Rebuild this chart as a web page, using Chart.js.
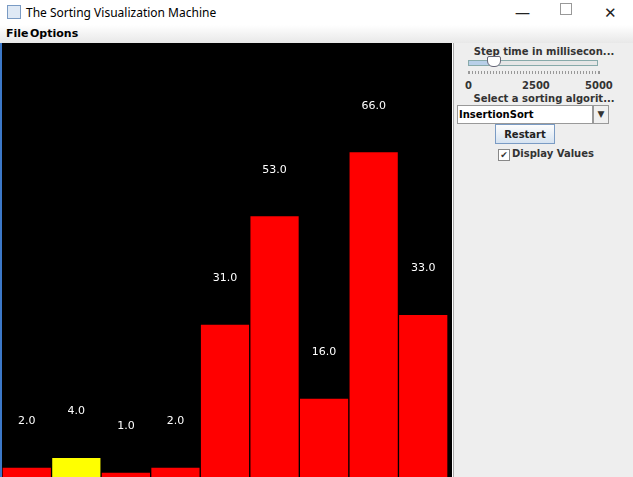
<!DOCTYPE html>
<html>
<head>
<meta charset="utf-8">
<script src="https://cdn.jsdelivr.net/npm/chart.js@4"></script>
<style>
  body { margin: 0; width: 633px; height: 477px; overflow: hidden; background: #fff; font-family: "DejaVu Sans", sans-serif; position: relative; }
  .title { position: absolute; left: 0; top: 0; width: 633px; height: 25px; background: #fff; font: 12px "Noto Sans", sans-serif; }
  .title .icon { position: absolute; left: 7px; top: 5px; width: 14px; height: 14px; border: 1px solid #7a9bc4; background: #dfe9f5; box-sizing: border-box; }
  .title .txt { position: absolute; left: 26px; top: 4px; color: #000; }
  .title .btn { position: absolute; top: 2px; font-size: 15px; color: #222; }
  .menu { position: absolute; left: 0; top: 25px; width: 633px; height: 18px; background: linear-gradient(#fff, #e8e8e8); font: bold 11px "DejaVu Sans", sans-serif; }
  .menu span { position: absolute; top: 2px; }
  .plot { position: absolute; left: 0; top: 43px; width: 452px; height: 434px; background: #000; border-left: 2px solid #3c78c8; box-sizing: border-box; }
  .plot canvas { position: absolute; left: 0; top: 0; }
  .side { position: absolute; left: 453px; top: 43px; width: 180px; height: 434px; background: #eeeeee; border-left: 1px solid #aaa; box-sizing: border-box; font: bold 10px "DejaVu Sans", sans-serif; color: #333; }
  .side .lbl { position: absolute; width: 180px; text-align: center; }
</style>
</head>
<body>
<div class="title"><div class="icon"></div><div class="txt">The Sorting Visualization Machine</div>
  <div class="btn" style="left:515px;">&#8212;</div>
  <div class="btn" style="left:560px;top:3px;width:10px;height:10px;border:1px solid #999;"></div>
  <div class="btn" style="left:604px;">&#10005;</div>
</div>
<div class="menu"><span style="left:6px">File</span><span style="left:30px">Options</span></div>
<div class="plot"><canvas id="c" width="446" height="434" style="width:446px;height:434px"></canvas></div>
<div class="side">
  <div class="lbl" style="top:3px;left:0">Step time in millisecon...</div>
  <div style="position:absolute;left:14px;top:17px;width:128px;height:4px;border:1px solid #8aa;background:#e6e6e6;"></div>
  <div style="position:absolute;left:14px;top:17px;width:25px;height:4px;border:1px solid #8aa;background:#b8cfe8;"></div>
  <div style="position:absolute;left:33px;top:13px;width:12px;height:9px;border:1px solid #667;background:#fff;border-radius:2px 2px 6px 6px;"></div>
  <div style="position:absolute;left:14px;top:28px;width:130px;height:3px;border-left:1px solid #999;border-right:1px solid #999;background:repeating-linear-gradient(90deg,#999 0 1px,transparent 1px 3px);"></div>
  <div style="position:absolute;left:11px;top:37px;">0</div>
  <div style="position:absolute;left:68px;top:37px;">2500</div>
  <div style="position:absolute;left:131px;top:37px;">5000</div>
  <div class="lbl" style="top:50px;left:0">Select a sorting algorit...</div>
  <div style="position:absolute;left:3px;top:62px;width:136px;height:19px;border:1px solid #999;background:#fff;box-sizing:border-box;padding:3px 1px;color:#000;">InsertionSort</div>
  <div style="position:absolute;left:139px;top:62px;width:16px;height:19px;border:1px solid #999;background:#f0f0f0;box-sizing:border-box;text-align:center;font-size:9px;padding-top:3px;">&#9660;</div>
  <div style="position:absolute;left:41px;top:81px;width:60px;height:20px;border:1px solid #7a9bc4;background:linear-gradient(#fdfdfd,#d6e3f1);box-sizing:border-box;text-align:center;padding-top:4px;color:#222;">Restart</div>
  <div style="position:absolute;left:44px;top:106px;width:10px;height:10px;border:1px solid #888;background:#fff;font-size:9px;line-height:10px;text-align:center;">&#10004;</div>
  <div style="position:absolute;left:58px;top:105px;">Display Values</div>
</div>
<script>
const categories = ["1", "2", "3", "4", "5", "6", "7", "8", "9"];
const values = [2, 4, 1, 2, 31, 53, 16, 66, 33];
const highlighted = [1];
const yMax = 88;

const valueLabels = {
  id: "valueLabels",
  afterDatasetsDraw(chart) {
    const ctx = chart.ctx;
    ctx.save();
    ctx.fillStyle = "#ffffff";
    ctx.font = "11px 'DejaVu Sans', sans-serif";
    ctx.textAlign = "center";
    chart.getDatasetMeta(0).data.forEach((bar, i) => {
      ctx.fillText(values[i].toFixed(1), bar.x, bar.y - 43);
    });
    ctx.restore();
  },
};

new Chart(document.getElementById("c"), {
  type: "bar",
  data: {
    labels: categories,
    datasets: [{
      data: values,
      backgroundColor: values.map((_, i) => highlighted.includes(i) ? "#ffff00" : "#ff0000"),
      borderColor: "#000000",
      borderWidth: 1,
      barPercentage: 1,
      categoryPercentage: 1,
    }],
  },
  options: {
    responsive: false,
    animation: false,
    layout: { padding: 0 },
    plugins: { legend: { display: false }, tooltip: { enabled: false } },
    scales: {
      x: { display: false, grid: { display: false } },
      y: { display: false, min: 0, max: yMax, grid: { display: false } },
    },
  },
  plugins: [valueLabels],
});
</script>
</body>
</html>
